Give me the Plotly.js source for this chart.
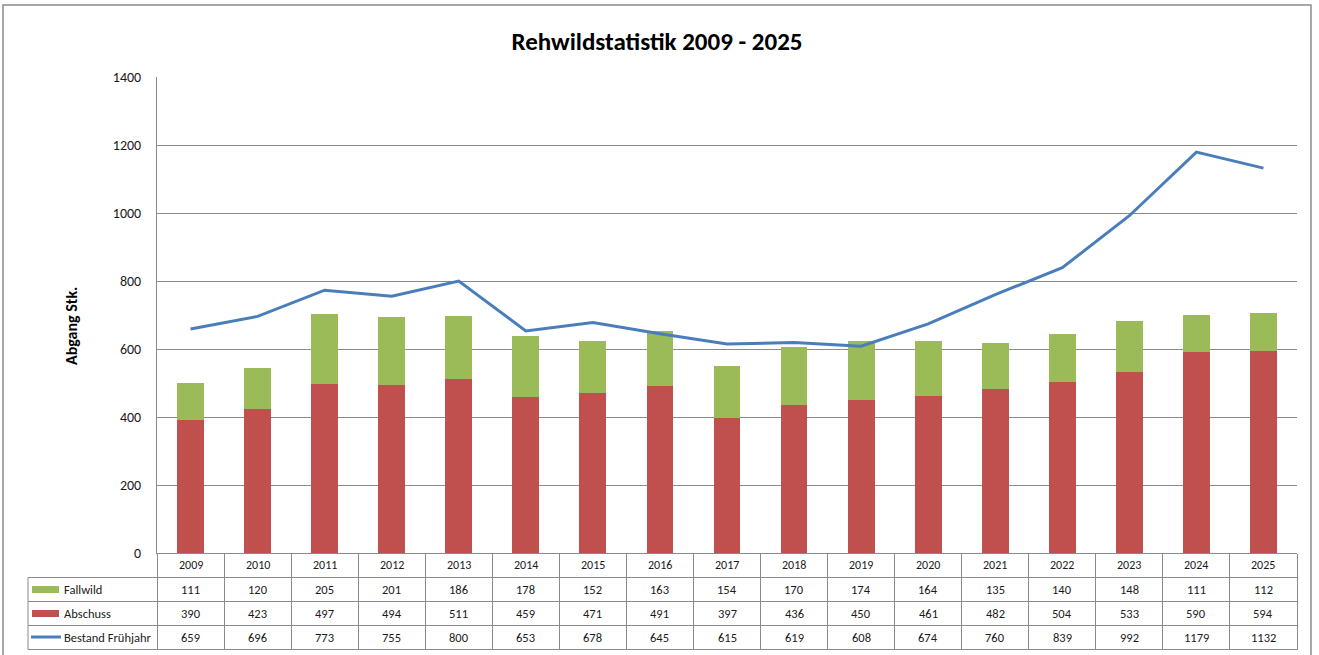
<!DOCTYPE html>
<html>
<head>
<meta charset="utf-8">
<script src="https://cdn.plot.ly/plotly-3.0.1.min.js"></script>
<style>html,body{margin:0;padding:0;background:#fff;}#chart{width:1319px;height:655px;}</style>
</head>
<body>
<div id="chart"></div>
<script>
const years = ['2009','2010','2011','2012','2013','2014','2015','2016','2017','2018','2019','2020','2021','2022','2023','2024','2025'];
const fallwild = [111,120,205,201,186,178,152,163,154,170,174,164,135,140,148,111,112];
const abschuss = [390,423,497,494,511,459,471,491,397,436,450,461,482,504,533,590,594];
const bestand = [659,696,773,755,800,653,678,645,615,619,608,674,760,839,992,1179,1132];
const seriesNames = ['Fallwild','Abschuss','Bestand Frühjahr'];
const yTicks = [0,200,400,600,800,1000,1200,1400];

const FONT = 'Carlito, Calibri, Lato, "Liberation Sans", sans-serif';
const GRID = '#8a8a8a';
const TXT = '#1a1a1a';
const C_FALL = '#9BBB59', C_ABS = '#C0504D', C_BEST = '#4A7EBB';

// layout geometry (pixels)
const W = 1319, H = 655, L = 157, R = 1297, T = 77, B = 553;
const PW = R - L, PH = B - T;
const px = X => (X - L) / PW;
const py = Y => (B - Y) / PH;

const traces = [
  {type:'bar', name:seriesNames[1], x:years, y:abschuss, marker:{color:C_ABS}, hoverinfo:'x+y+name'},
  {type:'bar', name:seriesNames[0], x:years, y:fallwild, marker:{color:C_FALL}, hoverinfo:'x+y+name'},
  {type:'scatter', mode:'lines', name:seriesNames[2], x:years, y:bestand, line:{color:C_BEST, width:3}, hoverinfo:'x+y+name'}
];

const rowCenters = [589.5, 613.5, 637];
const rowLines = [577.5, 601.5, 625.5, 649.5];
const tableLeft = 28;

const shapes = [];
const annotations = [];

// outer chart border
shapes.push({type:'rect', xref:'paper', yref:'paper', x0:px(3), x1:px(1311), y0:py(662), y1:py(5), line:{color:'#8c8c8c', width:1.5}, layer:'below'});

// table horizontal lines
for (let k = 0; k < rowLines.length; k++) {
  shapes.push({type:'line', xref:'paper', yref:'paper', x0:px(tableLeft), x1:1, y0:py(rowLines[k]), y1:py(rowLines[k]), line:{color:GRID, width:1}});
}
// table left border
shapes.push({type:'line', xref:'paper', yref:'paper', x0:px(tableLeft), x1:px(tableLeft), y0:py(rowLines[0]), y1:py(rowLines[3]), line:{color:GRID, width:1}});

// legend keys
shapes.push({type:'rect', xref:'paper', yref:'paper', x0:px(32), x1:px(59), y0:py(593), y1:py(586), fillcolor:C_FALL, line:{width:0}});
shapes.push({type:'rect', xref:'paper', yref:'paper', x0:px(32), x1:px(59), y0:py(617), y1:py(610), fillcolor:C_ABS, line:{width:0}});
shapes.push({type:'line', xref:'paper', yref:'paper', x0:px(31), x1:px(61), y0:py(637), y1:py(637), line:{color:C_BEST, width:3}});

// row labels
seriesNames.forEach((n, k) => {
  annotations.push({xref:'paper', yref:'paper', x:px(62), y:py(rowCenters[k]), xanchor:'left', yanchor:'middle', text:n, showarrow:false, font:{family:FONT, size:12.5, color:TXT}});
});

// year header + cell values (x given as category index on the category axis)
const rows = [fallwild, abschuss, bestand];
years.forEach((yr, i) => {
  annotations.push({xref:'x', yref:'paper', x:i, y:py(565), xanchor:'center', yanchor:'middle', text:yr, showarrow:false, font:{family:FONT, size:12, color:TXT}});
  rows.forEach((r, k) => {
    annotations.push({xref:'x', yref:'paper', x:i, y:py(rowCenters[k]), xanchor:'center', yanchor:'middle', text:String(r[i]), showarrow:false, font:{family:FONT, size:12.5, color:TXT}});
  });
});

// y axis title
annotations.push({xref:'paper', yref:'paper', x:px(71), y:py(326), xanchor:'center', yanchor:'middle', textangle:-90, text:'<b>Abgang Stk.</b>', showarrow:false, font:{family:FONT, size:16, color:'#000'}});

const layout = {
  width:W, height:H,
  margin:{l:L, r:W-R, t:T, b:H-B, pad:0},
  paper_bgcolor:'#fff', plot_bgcolor:'#fff',
  barmode:'stack', bargap:0.6,
  showlegend:false,
  title:{text:'<b>Rehwildstatistik 2009 - 2025</b>', xref:'container', yref:'container', x:657/W, y:1-41/H, xanchor:'center', yanchor:'middle', font:{family:FONT, size:25, color:'#000'}},
  font:{family:FONT, color:TXT},
  xaxis:{type:'category', range:[-0.5, years.length - 0.5], autorange:false, showticklabels:false, tickson:'boundaries', ticks:'outside', ticklen:96, tickwidth:1, tickcolor:GRID, showline:true, linecolor:GRID, linewidth:1, showgrid:false, zeroline:false, fixedrange:true},
  yaxis:{range:[0,1400], autorange:false, tickvals:yTicks, ticktext:yTicks.map(String), ticks:'', ticklabelstandoff:12, showline:true, linecolor:GRID, linewidth:1, showgrid:true, gridcolor:GRID, gridwidth:1, zeroline:false, tickfont:{family:FONT, size:14, color:TXT}, fixedrange:true},
  shapes:shapes,
  annotations:annotations
};

Plotly.newPlot('chart', traces, layout, {displayModeBar:false});
</script>
</body>
</html>
